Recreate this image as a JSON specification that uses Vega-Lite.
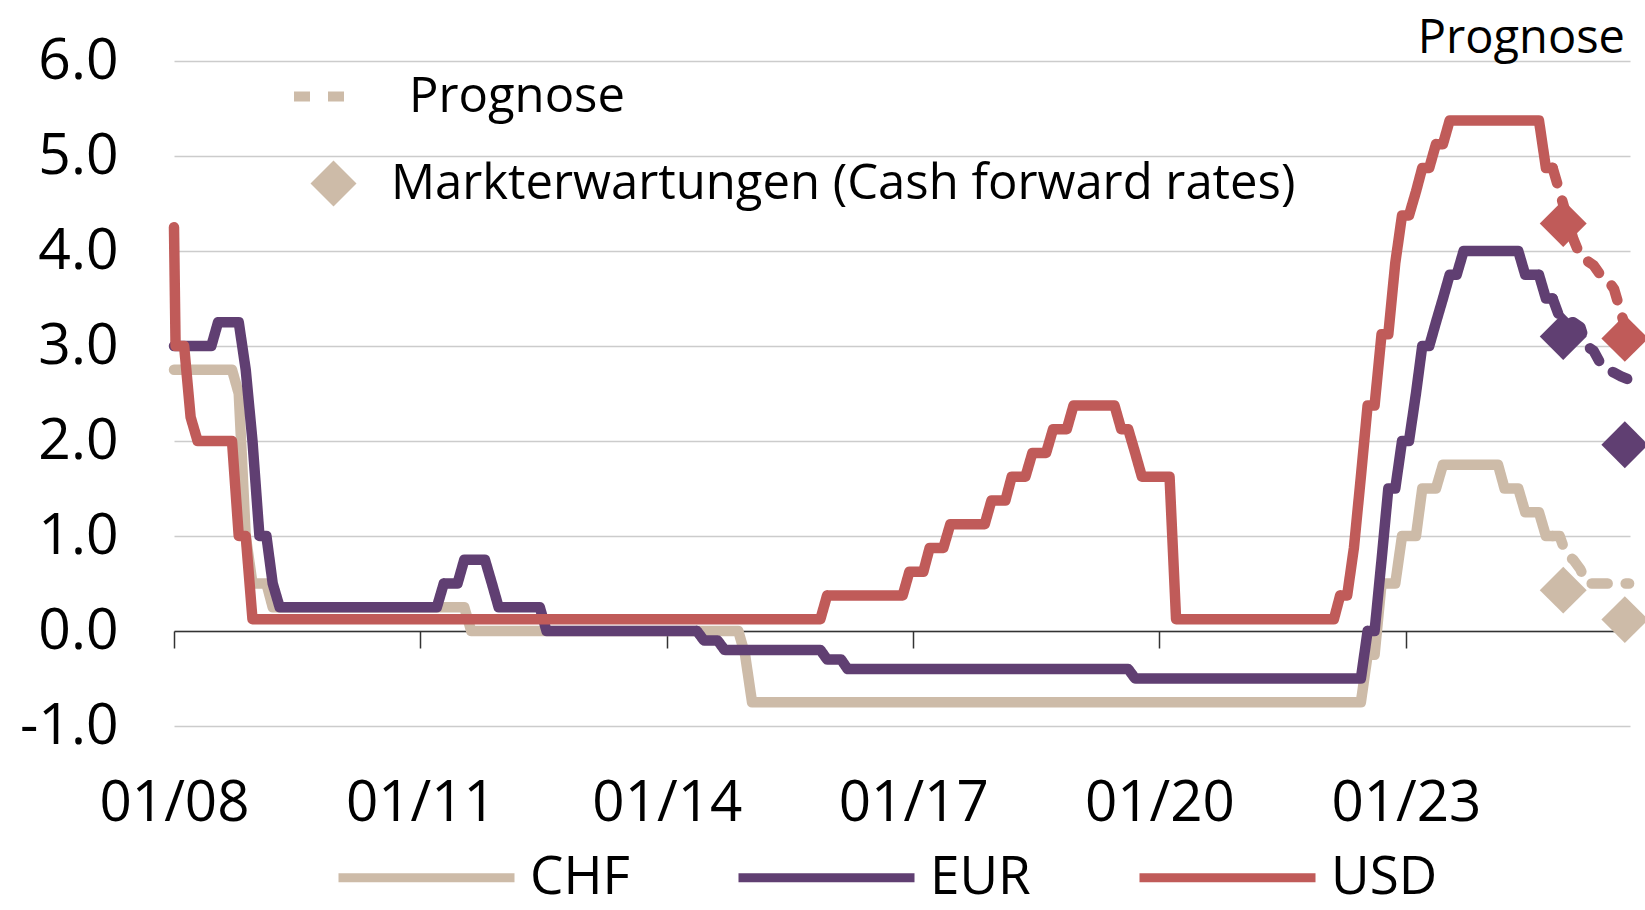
{
  "$schema": "https://vega.github.io/schema/vega-lite/v6.json",
  "width": 1456,
  "height": 665,
  "autosize": {"type": "none"},
  "padding": {"left": 174, "top": 61, "right": 15, "bottom": 184},
  "background": "white",
  "config": {
    "font": "Open Sans",
    "view": {"stroke": null},
    "axis": {"labelColor": "#000000", "labelFont": "Open Sans"},
    "legend": {"labelColor": "#000000", "labelFont": "Open Sans", "padding": 0}
  },
  "title": {
    "text": "Prognose",
    "anchor": "end",
    "frame": "group",
    "fontSize": 47,
    "fontWeight": "normal",
    "font": "Open Sans",
    "color": "#000000",
    "offset": 0,
    "dx": -5,
    "dy": 68,
    "baseline": "alphabetic"
  },
  "datasets": {
    "rates": [
      {"d": "2008-01-01", "c": "CHF", "v": 2.75, "t": "Ist"},
      {"d": "2008-09-15", "c": "CHF", "v": 2.75, "t": "Ist"},
      {"d": "2008-10-15", "c": "CHF", "v": 2.5, "t": "Ist"},
      {"d": "2008-11-15", "c": "CHF", "v": 1.0, "t": "Ist"},
      {"d": "2008-12-15", "c": "CHF", "v": 0.5, "t": "Ist"},
      {"d": "2009-02-15", "c": "CHF", "v": 0.5, "t": "Ist"},
      {"d": "2009-03-15", "c": "CHF", "v": 0.25, "t": "Ist"},
      {"d": "2011-07-15", "c": "CHF", "v": 0.25, "t": "Ist"},
      {"d": "2011-08-15", "c": "CHF", "v": 0.0, "t": "Ist"},
      {"d": "2014-11-15", "c": "CHF", "v": 0.0, "t": "Ist"},
      {"d": "2014-12-15", "c": "CHF", "v": -0.25, "t": "Ist"},
      {"d": "2015-01-15", "c": "CHF", "v": -0.75, "t": "Ist"},
      {"d": "2022-06-15", "c": "CHF", "v": -0.75, "t": "Ist"},
      {"d": "2022-07-15", "c": "CHF", "v": -0.25, "t": "Ist"},
      {"d": "2022-08-15", "c": "CHF", "v": -0.25, "t": "Ist"},
      {"d": "2022-09-15", "c": "CHF", "v": 0.5, "t": "Ist"},
      {"d": "2022-11-15", "c": "CHF", "v": 0.5, "t": "Ist"},
      {"d": "2022-12-15", "c": "CHF", "v": 1.0, "t": "Ist"},
      {"d": "2023-02-15", "c": "CHF", "v": 1.0, "t": "Ist"},
      {"d": "2023-03-15", "c": "CHF", "v": 1.5, "t": "Ist"},
      {"d": "2023-05-15", "c": "CHF", "v": 1.5, "t": "Ist"},
      {"d": "2023-06-15", "c": "CHF", "v": 1.75, "t": "Ist"},
      {"d": "2024-02-15", "c": "CHF", "v": 1.75, "t": "Ist"},
      {"d": "2024-03-15", "c": "CHF", "v": 1.5, "t": "Ist"},
      {"d": "2024-05-15", "c": "CHF", "v": 1.5, "t": "Ist"},
      {"d": "2024-06-15", "c": "CHF", "v": 1.25, "t": "Ist"},
      {"d": "2024-08-15", "c": "CHF", "v": 1.25, "t": "Ist"},
      {"d": "2024-09-15", "c": "CHF", "v": 1.0, "t": "Ist"},
      {"d": "2024-10-15", "c": "CHF", "v": 1.0, "t": "Ist"},

      {"d": "2008-01-01", "c": "EUR", "v": 3.0, "t": "Ist"},
      {"d": "2008-06-15", "c": "EUR", "v": 3.0, "t": "Ist"},
      {"d": "2008-07-15", "c": "EUR", "v": 3.25, "t": "Ist"},
      {"d": "2008-10-15", "c": "EUR", "v": 3.25, "t": "Ist"},
      {"d": "2008-11-15", "c": "EUR", "v": 2.75, "t": "Ist"},
      {"d": "2008-12-15", "c": "EUR", "v": 2.0, "t": "Ist"},
      {"d": "2009-01-15", "c": "EUR", "v": 1.0, "t": "Ist"},
      {"d": "2009-02-15", "c": "EUR", "v": 1.0, "t": "Ist"},
      {"d": "2009-03-15", "c": "EUR", "v": 0.5, "t": "Ist"},
      {"d": "2009-04-15", "c": "EUR", "v": 0.25, "t": "Ist"},
      {"d": "2011-03-15", "c": "EUR", "v": 0.25, "t": "Ist"},
      {"d": "2011-04-15", "c": "EUR", "v": 0.5, "t": "Ist"},
      {"d": "2011-06-15", "c": "EUR", "v": 0.5, "t": "Ist"},
      {"d": "2011-07-15", "c": "EUR", "v": 0.75, "t": "Ist"},
      {"d": "2011-10-15", "c": "EUR", "v": 0.75, "t": "Ist"},
      {"d": "2011-11-15", "c": "EUR", "v": 0.5, "t": "Ist"},
      {"d": "2011-12-15", "c": "EUR", "v": 0.25, "t": "Ist"},
      {"d": "2012-06-15", "c": "EUR", "v": 0.25, "t": "Ist"},
      {"d": "2012-07-15", "c": "EUR", "v": 0.0, "t": "Ist"},
      {"d": "2014-05-15", "c": "EUR", "v": 0.0, "t": "Ist"},
      {"d": "2014-06-15", "c": "EUR", "v": -0.1, "t": "Ist"},
      {"d": "2014-08-15", "c": "EUR", "v": -0.1, "t": "Ist"},
      {"d": "2014-09-15", "c": "EUR", "v": -0.2, "t": "Ist"},
      {"d": "2015-11-15", "c": "EUR", "v": -0.2, "t": "Ist"},
      {"d": "2015-12-15", "c": "EUR", "v": -0.3, "t": "Ist"},
      {"d": "2016-02-15", "c": "EUR", "v": -0.3, "t": "Ist"},
      {"d": "2016-03-15", "c": "EUR", "v": -0.4, "t": "Ist"},
      {"d": "2019-08-15", "c": "EUR", "v": -0.4, "t": "Ist"},
      {"d": "2019-09-15", "c": "EUR", "v": -0.5, "t": "Ist"},
      {"d": "2022-06-15", "c": "EUR", "v": -0.5, "t": "Ist"},
      {"d": "2022-07-15", "c": "EUR", "v": 0.0, "t": "Ist"},
      {"d": "2022-08-15", "c": "EUR", "v": 0.0, "t": "Ist"},
      {"d": "2022-09-15", "c": "EUR", "v": 0.75, "t": "Ist"},
      {"d": "2022-10-15", "c": "EUR", "v": 1.5, "t": "Ist"},
      {"d": "2022-11-15", "c": "EUR", "v": 1.5, "t": "Ist"},
      {"d": "2022-12-15", "c": "EUR", "v": 2.0, "t": "Ist"},
      {"d": "2023-01-15", "c": "EUR", "v": 2.0, "t": "Ist"},
      {"d": "2023-02-15", "c": "EUR", "v": 2.5, "t": "Ist"},
      {"d": "2023-03-15", "c": "EUR", "v": 3.0, "t": "Ist"},
      {"d": "2023-04-15", "c": "EUR", "v": 3.0, "t": "Ist"},
      {"d": "2023-05-15", "c": "EUR", "v": 3.25, "t": "Ist"},
      {"d": "2023-06-15", "c": "EUR", "v": 3.5, "t": "Ist"},
      {"d": "2023-07-15", "c": "EUR", "v": 3.75, "t": "Ist"},
      {"d": "2023-08-15", "c": "EUR", "v": 3.75, "t": "Ist"},
      {"d": "2023-09-15", "c": "EUR", "v": 4.0, "t": "Ist"},
      {"d": "2024-05-15", "c": "EUR", "v": 4.0, "t": "Ist"},
      {"d": "2024-06-15", "c": "EUR", "v": 3.75, "t": "Ist"},
      {"d": "2024-08-15", "c": "EUR", "v": 3.75, "t": "Ist"},
      {"d": "2024-09-15", "c": "EUR", "v": 3.5, "t": "Ist"},
      {"d": "2024-10-15", "c": "EUR", "v": 3.5, "t": "Ist"},

      {"d": "2008-01-01", "c": "USD", "v": 4.25, "t": "Ist"},
      {"d": "2008-01-08", "c": "USD", "v": 3.0, "t": "Ist"},
      {"d": "2008-02-15", "c": "USD", "v": 3.0, "t": "Ist"},
      {"d": "2008-03-15", "c": "USD", "v": 2.25, "t": "Ist"},
      {"d": "2008-04-15", "c": "USD", "v": 2.0, "t": "Ist"},
      {"d": "2008-09-15", "c": "USD", "v": 2.0, "t": "Ist"},
      {"d": "2008-10-15", "c": "USD", "v": 1.0, "t": "Ist"},
      {"d": "2008-11-15", "c": "USD", "v": 1.0, "t": "Ist"},
      {"d": "2008-12-15", "c": "USD", "v": 0.125, "t": "Ist"},
      {"d": "2015-11-15", "c": "USD", "v": 0.125, "t": "Ist"},
      {"d": "2015-12-15", "c": "USD", "v": 0.375, "t": "Ist"},
      {"d": "2016-11-15", "c": "USD", "v": 0.375, "t": "Ist"},
      {"d": "2016-12-15", "c": "USD", "v": 0.625, "t": "Ist"},
      {"d": "2017-02-15", "c": "USD", "v": 0.625, "t": "Ist"},
      {"d": "2017-03-15", "c": "USD", "v": 0.875, "t": "Ist"},
      {"d": "2017-05-15", "c": "USD", "v": 0.875, "t": "Ist"},
      {"d": "2017-06-15", "c": "USD", "v": 1.125, "t": "Ist"},
      {"d": "2017-11-15", "c": "USD", "v": 1.125, "t": "Ist"},
      {"d": "2017-12-15", "c": "USD", "v": 1.375, "t": "Ist"},
      {"d": "2018-02-15", "c": "USD", "v": 1.375, "t": "Ist"},
      {"d": "2018-03-15", "c": "USD", "v": 1.625, "t": "Ist"},
      {"d": "2018-05-15", "c": "USD", "v": 1.625, "t": "Ist"},
      {"d": "2018-06-15", "c": "USD", "v": 1.875, "t": "Ist"},
      {"d": "2018-08-15", "c": "USD", "v": 1.875, "t": "Ist"},
      {"d": "2018-09-15", "c": "USD", "v": 2.125, "t": "Ist"},
      {"d": "2018-11-15", "c": "USD", "v": 2.125, "t": "Ist"},
      {"d": "2018-12-15", "c": "USD", "v": 2.375, "t": "Ist"},
      {"d": "2019-06-15", "c": "USD", "v": 2.375, "t": "Ist"},
      {"d": "2019-07-15", "c": "USD", "v": 2.125, "t": "Ist"},
      {"d": "2019-08-15", "c": "USD", "v": 2.125, "t": "Ist"},
      {"d": "2019-09-15", "c": "USD", "v": 1.875, "t": "Ist"},
      {"d": "2019-10-15", "c": "USD", "v": 1.625, "t": "Ist"},
      {"d": "2020-02-15", "c": "USD", "v": 1.625, "t": "Ist"},
      {"d": "2020-03-15", "c": "USD", "v": 0.125, "t": "Ist"},
      {"d": "2022-02-15", "c": "USD", "v": 0.125, "t": "Ist"},
      {"d": "2022-03-15", "c": "USD", "v": 0.375, "t": "Ist"},
      {"d": "2022-04-15", "c": "USD", "v": 0.375, "t": "Ist"},
      {"d": "2022-05-15", "c": "USD", "v": 0.875, "t": "Ist"},
      {"d": "2022-06-15", "c": "USD", "v": 1.625, "t": "Ist"},
      {"d": "2022-07-15", "c": "USD", "v": 2.375, "t": "Ist"},
      {"d": "2022-08-15", "c": "USD", "v": 2.375, "t": "Ist"},
      {"d": "2022-09-15", "c": "USD", "v": 3.125, "t": "Ist"},
      {"d": "2022-10-15", "c": "USD", "v": 3.125, "t": "Ist"},
      {"d": "2022-11-15", "c": "USD", "v": 3.875, "t": "Ist"},
      {"d": "2022-12-15", "c": "USD", "v": 4.375, "t": "Ist"},
      {"d": "2023-01-15", "c": "USD", "v": 4.375, "t": "Ist"},
      {"d": "2023-02-15", "c": "USD", "v": 4.625, "t": "Ist"},
      {"d": "2023-03-15", "c": "USD", "v": 4.875, "t": "Ist"},
      {"d": "2023-04-15", "c": "USD", "v": 4.875, "t": "Ist"},
      {"d": "2023-05-15", "c": "USD", "v": 5.125, "t": "Ist"},
      {"d": "2023-06-15", "c": "USD", "v": 5.125, "t": "Ist"},
      {"d": "2023-07-15", "c": "USD", "v": 5.375, "t": "Ist"},
      {"d": "2024-08-15", "c": "USD", "v": 5.375, "t": "Ist"},
      {"d": "2024-09-15", "c": "USD", "v": 4.875, "t": "Ist"},
      {"d": "2024-10-15", "c": "USD", "v": 4.875, "t": "Ist"},

      {"d": "2024-10-15", "c": "CHF", "v": 1.0, "t": "Prognose"},
      {"d": "2024-11-15", "c": "CHF", "v": 1.0, "t": "Prognose"},
      {"d": "2024-12-15", "c": "CHF", "v": 0.8, "t": "Prognose"},
      {"d": "2025-01-15", "c": "CHF", "v": 0.75, "t": "Prognose"},
      {"d": "2025-02-15", "c": "CHF", "v": 0.65, "t": "Prognose"},
      {"d": "2025-03-15", "c": "CHF", "v": 0.5, "t": "Prognose"},
      {"d": "2025-09-20", "c": "CHF", "v": 0.5, "t": "Prognose"},

      {"d": "2024-10-15", "c": "EUR", "v": 3.5, "t": "Prognose"},
      {"d": "2024-11-15", "c": "EUR", "v": 3.3, "t": "Prognose"},
      {"d": "2024-12-15", "c": "EUR", "v": 3.25, "t": "Prognose"},
      {"d": "2025-01-15", "c": "EUR", "v": 3.25, "t": "Prognose"},
      {"d": "2025-02-15", "c": "EUR", "v": 3.2, "t": "Prognose"},
      {"d": "2025-03-15", "c": "EUR", "v": 3.0, "t": "Prognose"},
      {"d": "2025-04-15", "c": "EUR", "v": 2.95, "t": "Prognose"},
      {"d": "2025-05-15", "c": "EUR", "v": 2.82, "t": "Prognose"},
      {"d": "2025-06-15", "c": "EUR", "v": 2.75, "t": "Prognose"},
      {"d": "2025-07-15", "c": "EUR", "v": 2.72, "t": "Prognose"},
      {"d": "2025-08-15", "c": "EUR", "v": 2.68, "t": "Prognose"},
      {"d": "2025-09-15", "c": "EUR", "v": 2.65, "t": "Prognose"},

      {"d": "2024-10-15", "c": "USD", "v": 4.875, "t": "Prognose"},
      {"d": "2024-11-15", "c": "USD", "v": 4.625, "t": "Prognose"},
      {"d": "2024-12-15", "c": "USD", "v": 4.375, "t": "Prognose"},
      {"d": "2025-01-15", "c": "USD", "v": 4.125, "t": "Prognose"},
      {"d": "2025-02-15", "c": "USD", "v": 3.95, "t": "Prognose"},
      {"d": "2025-03-15", "c": "USD", "v": 3.9, "t": "Prognose"},
      {"d": "2025-04-15", "c": "USD", "v": 3.85, "t": "Prognose"},
      {"d": "2025-05-15", "c": "USD", "v": 3.75, "t": "Prognose"},
      {"d": "2025-06-15", "c": "USD", "v": 3.7, "t": "Prognose"},
      {"d": "2025-07-15", "c": "USD", "v": 3.6, "t": "Prognose"},
      {"d": "2025-08-15", "c": "USD", "v": 3.35, "t": "Prognose"},
      {"d": "2025-09-15", "c": "USD", "v": 3.1, "t": "Prognose"}
    ],
    "market": [
      {"d": "2024-12-01", "c": "CHF", "v": 0.43, "k": "Markterwartungen (Cash forward rates)"},
      {"d": "2025-09-01", "c": "CHF", "v": 0.12, "k": "Markterwartungen (Cash forward rates)"},
      {"d": "2024-12-01", "c": "EUR", "v": 3.1, "k": "Markterwartungen (Cash forward rates)"},
      {"d": "2025-09-01", "c": "EUR", "v": 1.96, "k": "Markterwartungen (Cash forward rates)"},
      {"d": "2024-12-01", "c": "USD", "v": 4.29, "k": "Markterwartungen (Cash forward rates)"},
      {"d": "2025-09-01", "c": "USD", "v": 3.08, "k": "Markterwartungen (Cash forward rates)"}
    ]
  },
  "layer": [
    {
      "data": {"name": "rates"},
      "mark": {"type": "line", "strokeWidth": 10.5, "strokeCap": "round", "strokeJoin": "round"},
      "encoding": {
        "x": {
          "field": "d",
          "type": "temporal",
          "scale": {
            "type": "utc",
            "domain": [
              {"year": 2008, "month": 1, "date": 1, "utc": true},
              {"year": 2025, "month": 9, "date": 24, "utc": true}
            ]
          },
          "axis": {
            "orient": "bottom",
            "values": [
              {"year": 2008, "month": 1, "date": 1, "utc": true},
              {"year": 2011, "month": 1, "date": 1, "utc": true},
              {"year": 2014, "month": 1, "date": 1, "utc": true},
              {"year": 2017, "month": 1, "date": 1, "utc": true},
              {"year": 2020, "month": 1, "date": 1, "utc": true},
              {"year": 2023, "month": 1, "date": 1, "utc": true}
            ],
            "format": "%m/%y",
            "labelFontSize": 56.5,
            "labelPadding": 77,
            "labelBaseline": "middle",
            "labelFlush": false,
            "labelOverlap": false,
            "ticks": false,
            "tickSize": 0,
            "domain": false,
            "grid": false,
            "title": null
          }
        },
        "y": {
          "field": "v",
          "type": "quantitative",
          "scale": {"domain": [-1, 6], "nice": false, "zero": false},
          "axis": {
            "values": [-1, 0, 1, 2, 3, 4, 5, 6],
            "labelExpr": "datum.value < 0 ? '-' + format(-datum.value, '.1f') : format(datum.value, '.1f')",
            "labelFontSize": 57,
            "labelPadding": 56,
            "ticks": false,
            "tickSize": 0,
            "domain": false,
            "grid": true,
            "gridColor": "#cccccc",
            "gridWidth": 1.5,
            "title": null
          }
        },
        "color": {
          "field": "c",
          "type": "nominal",
          "scale": {"domain": ["CHF", "EUR", "USD"], "range": ["#CDBBA8", "#603F72", "#C05B59"]},
          "legend": {
            "orient": "none",
            "direction": "horizontal",
            "legendX": 160,
            "legendY": 724,
            "title": null,
            "padding": 0,
            "symbolType": "stroke",
            "symbolSize": 30976,
            "symbolStrokeWidth": 9,
            "labelFontSize": 53,
            "labelOffset": 11,
            "labelLimit": 400,
            "columnPadding": 90
          }
        },
        "strokeDash": {
          "field": "t",
          "type": "nominal",
          "scale": {"domain": ["Ist", "Prognose"], "range": [[1, 0], [16, 18]]},
          "legend": {
            "values": ["Prognose"],
            "orient": "none",
            "legendX": 115,
            "legendY": -1,
            "title": null,
            "padding": 0,
            "symbolType": "stroke",
            "symbolSize": 3969,
            "symbolStrokeWidth": 10,
            "symbolStrokeColor": "#CDBBA8",
            "labelFontSize": 49,
            "labelOffset": 47,
            "labelLimit": 1000
          }
        }
      }
    },
    {
      "data": {"name": "market"},
      "mark": {"type": "point", "filled": true, "size": 2200, "opacity": 1, "strokeWidth": 0},
      "encoding": {
        "x": {
          "field": "d",
          "type": "temporal",
          "axis": {
            "orient": "bottom",
            "offset": -95,
            "values": [
              {"year": 2008, "month": 1, "date": 1, "utc": true},
              {"year": 2011, "month": 1, "date": 1, "utc": true},
              {"year": 2014, "month": 1, "date": 1, "utc": true},
              {"year": 2017, "month": 1, "date": 1, "utc": true},
              {"year": 2020, "month": 1, "date": 1, "utc": true},
              {"year": 2023, "month": 1, "date": 1, "utc": true}
            ],
            "labels": false,
            "ticks": true,
            "tickSize": 17,
            "tickWidth": 1.5,
            "tickColor": "#333333",
            "domain": true,
            "domainColor": "#333333",
            "domainWidth": 1.5,
            "grid": false,
            "title": null
          }
        },
        "y": {"field": "v", "type": "quantitative"},
        "color": {"field": "c", "type": "nominal", "legend": null},
        "shape": {
          "field": "k",
          "type": "nominal",
          "scale": {"range": ["diamond"]},
          "legend": {
            "orient": "none",
            "legendX": 135,
            "legendY": 98,
            "title": null,
            "padding": 0,
            "symbolSize": 2116,
            "symbolStrokeWidth": 0,
            "symbolFillColor": "#CDBBA8",
            "labelFontSize": 49,
            "labelOffset": 33,
            "labelLimit": 1200
          }
        }
      }
    }
  ],
  "resolve": {"axis": {"x": "independent"}}
}
